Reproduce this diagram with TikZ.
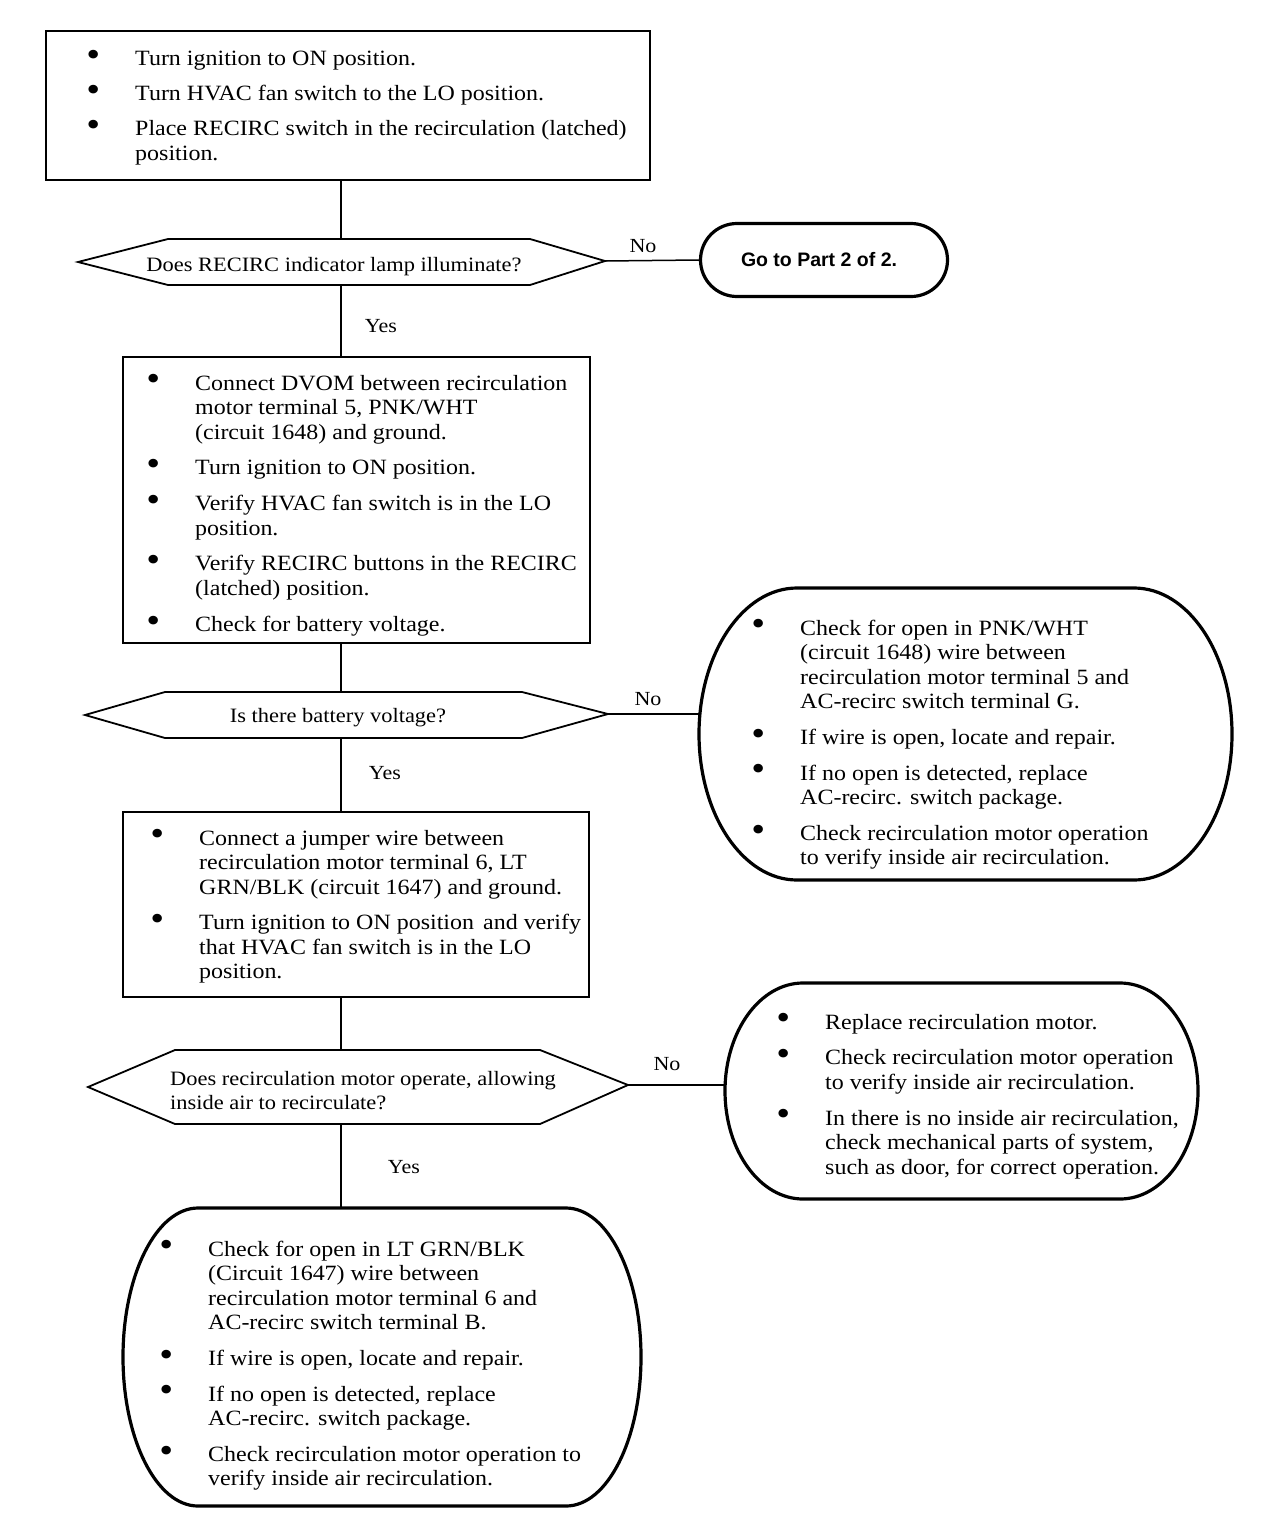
\documentclass[tikz,border=0pt]{standalone}
\usepackage{graphicx}
\usepackage{fontspec}
\setmainfont[FakeStretch=1.1]{Liberation Serif}
\newfontfamily\sansf{Liberation Sans}
\usetikzlibrary{shapes.misc}
\newcommand\bul{\raisebox{-0.8pt}{\scalebox{1.65}{\textbullet}}}
\newcommand\itm{\makebox[0pt][r]{\bul\hspace{35pt}}}
\newcommand\bodyfont{\fontsize{21.8}{24.5}\selectfont}
\tikzset{
  boxline/.style={draw, line width=1.8pt},
  roundline/.style={draw, line width=3.2pt},
  conn/.style={draw, line width=1.5pt},
  txt/.style={inner sep=0pt, anchor=base west, font=\bodyfont},
  lbl/.style={inner sep=0pt, font=\fontsize{20}{22}\selectfont},
  dtxt/.style={inner sep=0pt, font=\fontsize{20.4}{24}\selectfont},
}
\begin{document}
\begin{tikzpicture}[x=1pt,y=-1pt]
\useasboundingbox[fill=white] (0,0) rectangle (1280,1528);

% ---------- Box 1
\node[boxline, minimum width=604, minimum height=149, inner sep=0] (b1) at (348,105.5) {};
\node[txt] (t1) at (135,66) {\begin{tabular}[t]{@{}l@{}}
\itm Turn ignition to ON position.\\[10.5pt]
\itm Turn HVAC fan switch to the LO position.\\[10.5pt]
\itm Place RECIRC switch in the recirculation (latched)\\
position.
\end{tabular}};

% ---------- Decision 1
\draw[boxline] (78,262) -- (168,239) -- (530,239) -- (605,261) -- (530,285) -- (168,285) -- cycle;
\coordinate (d1n) at (341,239);
\coordinate (d1s) at (341,285);
\coordinate (d1e) at (605,261);
\node[dtxt] (d1t) at (334,267) {Does RECIRC indicator lamp illuminate?};

\node[draw, line width=3.2pt, rounded rectangle, minimum width=247, minimum height=73, inner sep=0,
      font=\sansf\bfseries\fontsize{19.5}{21}\selectfont] (g) at (824,260) {\hspace{-10pt}Go to Part 2 of 2.};

% ---------- Box 2
\node[boxline, minimum width=467, minimum height=286, inner sep=0] (b2) at (356.5,500) {};
\node[txt] (t2) at (195,390) {\begin{tabular}[t]{@{}l@{}}
\itm Connect DVOM between recirculation\\
motor terminal 5, PNK/WHT\\
(circuit 1648) and ground.\\[11.3pt]
\itm Turn ignition to ON position.\\[11.3pt]
\itm Verify HVAC fan switch is in the LO\\
position.\\[11.3pt]
\itm Verify RECIRC buttons in the RECIRC\\
(latched) position.\\[11.3pt]
\itm Check for battery voltage.
\end{tabular}};

% ---------- Decision 2
\draw[boxline] (85,715) -- (165,692) -- (522,692) -- (608,714) -- (522,738) -- (165,738) -- cycle;
\coordinate (d2n) at (341,692);
\coordinate (d2s) at (341,738);
\coordinate (d2e) at (608,714);
\node[dtxt] (d2t) at (338,718) {Is there battery voltage?};

% ---------- Rounded box 3
\draw[roundline] (797,588) -- (1134,588) arc[start angle=-90, end angle=90, x radius=98, y radius=146]
  -- (797,880) arc[start angle=90, end angle=270, x radius=98, y radius=146] -- cycle;
\coordinate (b3w) at (699,714);
\node[txt] (t3) at (800,635) {\begin{tabular}[t]{@{}l@{}}
\itm Check for open in PNK/WHT\\
(circuit 1648) wire between\\
recirculation motor terminal 5 and\\
AC-recirc switch terminal G.\\[11.3pt]
\itm If wire is open, locate and repair.\\[11.3pt]
\itm If no open is detected, replace\\
AC-recirc. switch package.\\[11.3pt]
\itm Check recirculation motor operation\\
to verify inside air recirculation.
\end{tabular}};

% ---------- Box 4
\node[boxline, minimum width=466, minimum height=185, inner sep=0] (b4) at (356,904.5) {};
\node[txt] (t4) at (199,845) {\begin{tabular}[t]{@{}l@{}}
\itm Connect a jumper wire between\\
recirculation motor terminal 6, LT\\
GRN/BLK (circuit 1647) and ground.\\[11.3pt]
\itm Turn ignition to ON position\hspace{3pt} and verify\\
that HVAC fan switch is in the LO\\
position.
\end{tabular}};

% ---------- Decision 3
\draw[boxline] (88,1087) -- (175,1050) -- (540,1050) -- (628,1085) -- (540,1124) -- (175,1124) -- cycle;
\coordinate (d3n) at (341,1050);
\coordinate (d3s) at (341,1124);
\coordinate (d3e) at (628,1085);
\node[dtxt, anchor=base west] (d3t) at (170,1085) {\begin{tabular}[t]{@{}l@{}}
Does recirculation motor operate, allowing\\
inside air to recirculate?
\end{tabular}};

% ---------- Rounded box 5
\draw[roundline] (803,983) -- (1120,983) arc[start angle=-90, end angle=90, x radius=78, y radius=108]
  -- (803,1199) arc[start angle=90, end angle=270, x radius=78, y radius=108] -- cycle;
\coordinate (b5w) at (726,1085);
\node[txt] (t5) at (825,1029) {\begin{tabular}[t]{@{}l@{}}
\itm Replace recirculation motor.\\[11.3pt]
\itm Check recirculation motor operation\\
to verify inside air recirculation.\\[11.3pt]
\itm In there is no inside air recirculation,\\
check mechanical parts of system,\\
such as door, for correct operation.
\end{tabular}};

% ---------- Rounded box 6
\draw[roundline] (198,1208) -- (566,1208) arc[start angle=-90, end angle=90, x radius=75, y radius=149]
  -- (198,1506) arc[start angle=90, end angle=270, x radius=75, y radius=149] -- cycle;
\coordinate (b6n) at (341,1208);
\node[txt] (t6) at (208,1256) {\begin{tabular}[t]{@{}l@{}}
\itm Check for open in LT GRN/BLK\\
(Circuit 1647) wire between\\
recirculation motor terminal 6 and\\
AC-recirc switch terminal B.\\[11.3pt]
\itm If wire is open, locate and repair.\\[11.3pt]
\itm If no open is detected, replace\\
AC-recirc. switch package.\\[11.3pt]
\itm Check recirculation motor operation to\\
verify inside air recirculation.
\end{tabular}};

% ---------- Connectors
\draw[conn] (b1.south -| d1n) -- (d1n);
\draw[conn] (d1e) -- (g.west);
\draw[conn] (d1s) -- (b2.north -| d1s);
\draw[conn] (b2.south -| d2n) -- (d2n);
\draw[conn] (d2e) -- (b3w);
\draw[conn] (d2s) -- (b4.north -| d2s);
\draw[conn] (b4.south -| d3n) -- (d3n);
\draw[conn] (d3e) -- (b5w);
\draw[conn] (d3s) -- (b6n);

% ---------- Labels
\node[lbl] (no1) at (643,246) {No};
\node[lbl] (yes1) at (381,326) {Yes};
\node[lbl] (no2) at (648,699) {No};
\node[lbl] (yes2) at (385,773) {Yes};
\node[lbl] (no3) at (667,1064) {No};
\node[lbl] (yes3) at (404,1167) {Yes};
\end{tikzpicture}
\end{document}
